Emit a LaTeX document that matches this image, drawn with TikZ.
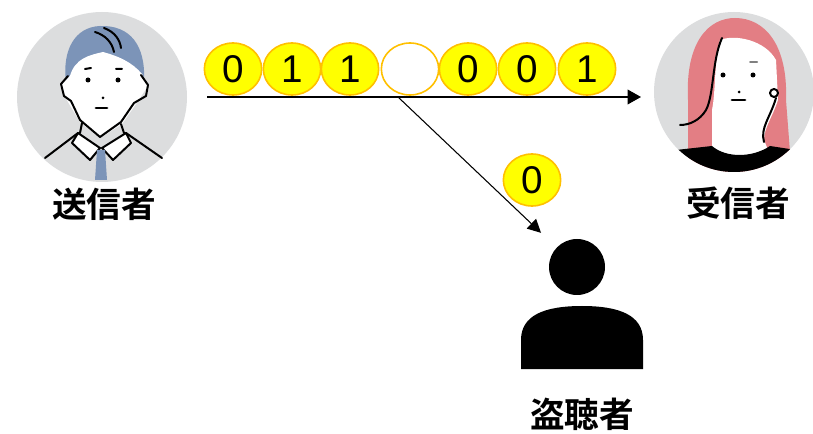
\documentclass[tikz,border=0pt]{standalone}
\usepackage{fontspec}
\setmainfont{Liberation Sans}
\newfontfamily\jp{Noto Sans CJK JP Bold}
\usetikzlibrary{arrows.meta,shapes.geometric}
\definecolor{bityellow}{HTML}{FFFF00}
\definecolor{bitedge}{HTML}{FFC000}
\definecolor{avatar}{HTML}{DCDDDE}
\definecolor{hairblue}{HTML}{7C94B8}
\definecolor{hairpink}{HTML}{E37E84}
\tikzset{
  bit/.style={ellipse,draw=bitedge,fill=bityellow,line width=1.2pt,minimum width=43pt,minimum height=39pt,inner sep=0pt,font=\fontsize{29}{29}\selectfont},
  who/.style={font=\jp\fontsize{26}{26}\selectfont},
  face/.style={circle,fill=avatar,inner sep=0pt},
  ink/.style={line width=1.5pt,line cap=round,line join=round},
}
\begin{document}
\begin{tikzpicture}[x=0.75pt,y=-0.75pt]
\useasboundingbox (0,0) rectangle (813,434);
% sender
\node[face,minimum size=127.5pt] (sender) at (102,97) {};
\fill[hairblue] (66,82) .. controls (62,50) and (75,27) .. (100,26) .. controls (130,25) and (146,45) .. (144,82) -- cycle;
\fill[white] (70,76) .. controls (75,58) and (90,55) .. (103,52) .. controls (118,56) and (132,62) .. (142,74) -- (148,86) -- (136,104) -- (122,124) -- (100,138) -- (80,122) -- (68,102) -- (60,86) -- cycle;
\draw[ink] (68,76) -- (61,84) -- (64,96) -- (71,101) -- (80,120) -- (100,137) -- (121,122) -- (134,103) -- (146,96) -- (148,85) -- (141,75);
\draw[ink] (95,32) .. controls (105,35) and (112,42) .. (114,52);
\draw[ink] (104,28) .. controls (115,32) and (120,40) .. (121,48);
\draw[ink] (85,69) -- (91,68) (116,69) -- (122,69);
\fill (88,80) circle (2.5) (118,80) circle (2.5) (103,98) circle (1.5);
\draw[ink,line width=2.2pt] (96,108) -- (107,108);
\draw[ink] (82,123) -- (80,133) (121,124) -- (124,133);
\draw[ink] (45,158) -- (78,133) (126,133) -- (162,158);
\filldraw[ink,fill=white] (78,133) -- (100,148) -- (90,160) -- (72,143) -- cycle;
\filldraw[ink,fill=white] (126,133) -- (102,148) -- (113,160) -- (131,143) -- cycle;
\fill[hairblue] (97,150) -- (105,150) -- (107,180) -- (95,180) -- cycle;
\node[who] (sendername) at (104,204) {送信者};
% receiver
\node[face,minimum size=120pt] (receiver) at (734,92) {};
\begin{scope}
\clip (734,92) circle (80);
\fill[hairpink] (688,178) -- (688,100) .. controls (685,40) and (710,18) .. (735,18) .. controls (765,18) and (788,45) .. (786,100) -- (792,178) -- cycle;
\fill[white] (720,40) .. controls (735,34) and (765,40) .. (776,60) -- (778,100) .. controls (772,118) and (764,128) .. (764,140) -- (768,150) .. controls (750,158) and (728,158) .. (712,150) -- (712,110) .. controls (716,90) and (714,60) .. cycle;
\fill (676,150) -- (712,146) .. controls (726,158) and (752,158) .. (770,146) -- (796,150) -- (796,180) -- (676,180) -- cycle;
\draw[ink] (722,38) .. controls (712,60) and (714,95) .. (706,110) .. controls (700,120) and (690,125) .. (680,125);
\draw[ink] (776,98) .. controls (770,118) and (760,128) .. (764,142);
\draw[ink] (774,93) circle (4);
\end{scope}
\fill (723,75) circle (2.5) (753,75) circle (2.5) (739,92) circle (1.5);
\draw[ink,gray] (750,62) -- (757,62);
\draw[ink,line width=2.2pt] (732,100) -- (745,100);
\node[who] (receivername) at (738,203) {受信者};
% eavesdropper
\node[circle,fill,minimum size=42pt,inner sep=0pt] (eve) at (577,267) {};
\fill (521,369) -- (521,340) .. controls (521,315) and (545,306) .. (582,306) .. controls (619,306) and (643,315) .. (643,340) -- (643,369) -- cycle;
\node[who] (evename) at (582,414) {盗聴者};
% bit stream
\foreach \x/\b in {233/0,292/1,350/1,468/0,527/0,587/1}
  \node[bit] (b\x) at (\x,69) {\b};
\node[bit,fill=white] (gap) at (410,69) {};
\node[bit] (stolen) at (532,180) {0};
% channel and tap
\coordinate (tx) at (207,97);
\coordinate (rx) at (641,97);
\coordinate (tap) at (398,97);
\draw[line width=1pt,-{Triangle[length=10pt,width=11pt]}] (tx) -- (rx);
\draw[line width=0.8pt,-{Triangle[length=10pt,width=10pt]},shorten >=16pt] (tap) -- (eve);
\end{tikzpicture}
\end{document}
